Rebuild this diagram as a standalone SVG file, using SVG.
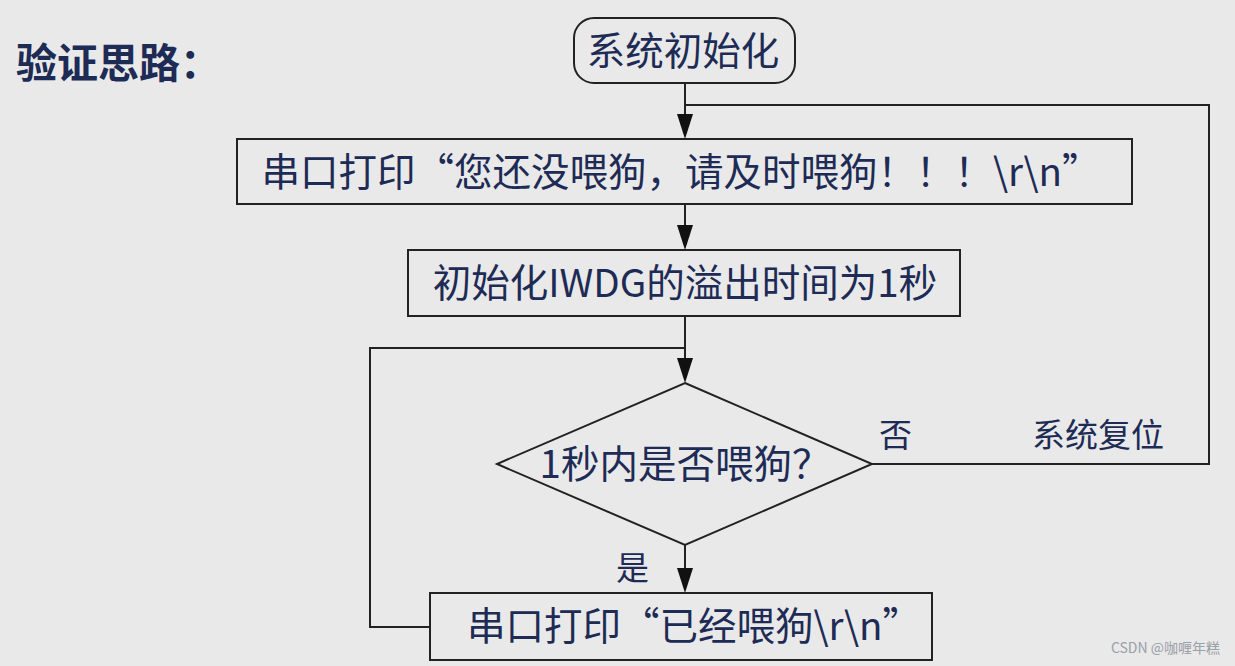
<svg xmlns="http://www.w3.org/2000/svg" width="1235" height="666" viewBox="0 0 1235 666">
<style>
.bg{fill:#e9e9e9}
.box{fill:#e9e9e9;stroke:#222;stroke-width:2}
.t{font-family:"Noto Sans CJK SC","Noto Sans",sans-serif;font-size:38.5px;fill:#1d2b55;text-anchor:middle}
.lbl{font-family:"Noto Sans CJK SC","Noto Sans",sans-serif;font-size:33px;fill:#1d2b55}
.ln{fill:none;stroke:#222;stroke-width:2}
</style>
<rect class="bg" x="0" y="0" width="1235" height="666"/>
<g id="title"><text x="16" y="78" font-family="'Noto Sans CJK SC','Noto Sans',sans-serif" font-size="41" font-weight="bold" fill="#1d2b55">验证思路：</text></g>
<g id="connectors">
<line class="ln" x1="685" y1="83" x2="685" y2="114"/><path d="M677,114 L693,114 L685,139 Z" fill="#111"/>
<line class="ln" x1="685" y1="204" x2="685" y2="225"/><path d="M677,225 L693,225 L685,250 Z" fill="#111"/>
<line class="ln" x1="685" y1="316" x2="685" y2="358"/><path d="M677,358 L693,358 L685,383 Z" fill="#111"/>
<line class="ln" x1="685" y1="545" x2="685" y2="568"/><path d="M677,568 L693,568 L685,593 Z" fill="#111"/>
<polyline class="ln" points="872,464 1209,464 1209,105 685,105"/>
<polyline class="ln" points="430,627 370,627 370,348 685,348"/>
<text class="lbl" x="879" y="447">否</text>
<text class="lbl" x="1032" y="447" font-size="34">系统复位</text>
<text class="lbl" x="616" y="580">是</text>
</g>
<g id="start"><rect class="box" x="574" y="18" width="221" height="65" rx="20"/><text class="t" x="683" y="65">系统初始化</text></g>
<g id="print1"><rect class="box" x="237" y="139" width="895" height="65"/><text class="t" x="681" y="186">串口打印“您还没喂狗，请及时喂狗！！！\r\n”</text></g>
<g id="init"><rect class="box" x="408" y="250" width="552" height="66"/><text class="t" x="685" y="297">初始化IWDG的溢出时间为1秒</text></g>
<g id="decision"><polygon class="box" points="685,383 872,464 685,545 497,464"/><text class="t" x="685" y="478" font-size="36">1秒内是否喂狗？</text></g>
<g id="print2"><rect class="box" x="430" y="593" width="502" height="67"/><text class="t" x="694" y="640">串口打印“已经喂狗\r\n”</text></g>
<g id="watermark"><text x="1220" y="653" font-family="'Noto Sans CJK SC',sans-serif" font-size="14" fill="#9aa0a8" text-anchor="end">CSDN @咖喱年糕</text></g>
</svg>
